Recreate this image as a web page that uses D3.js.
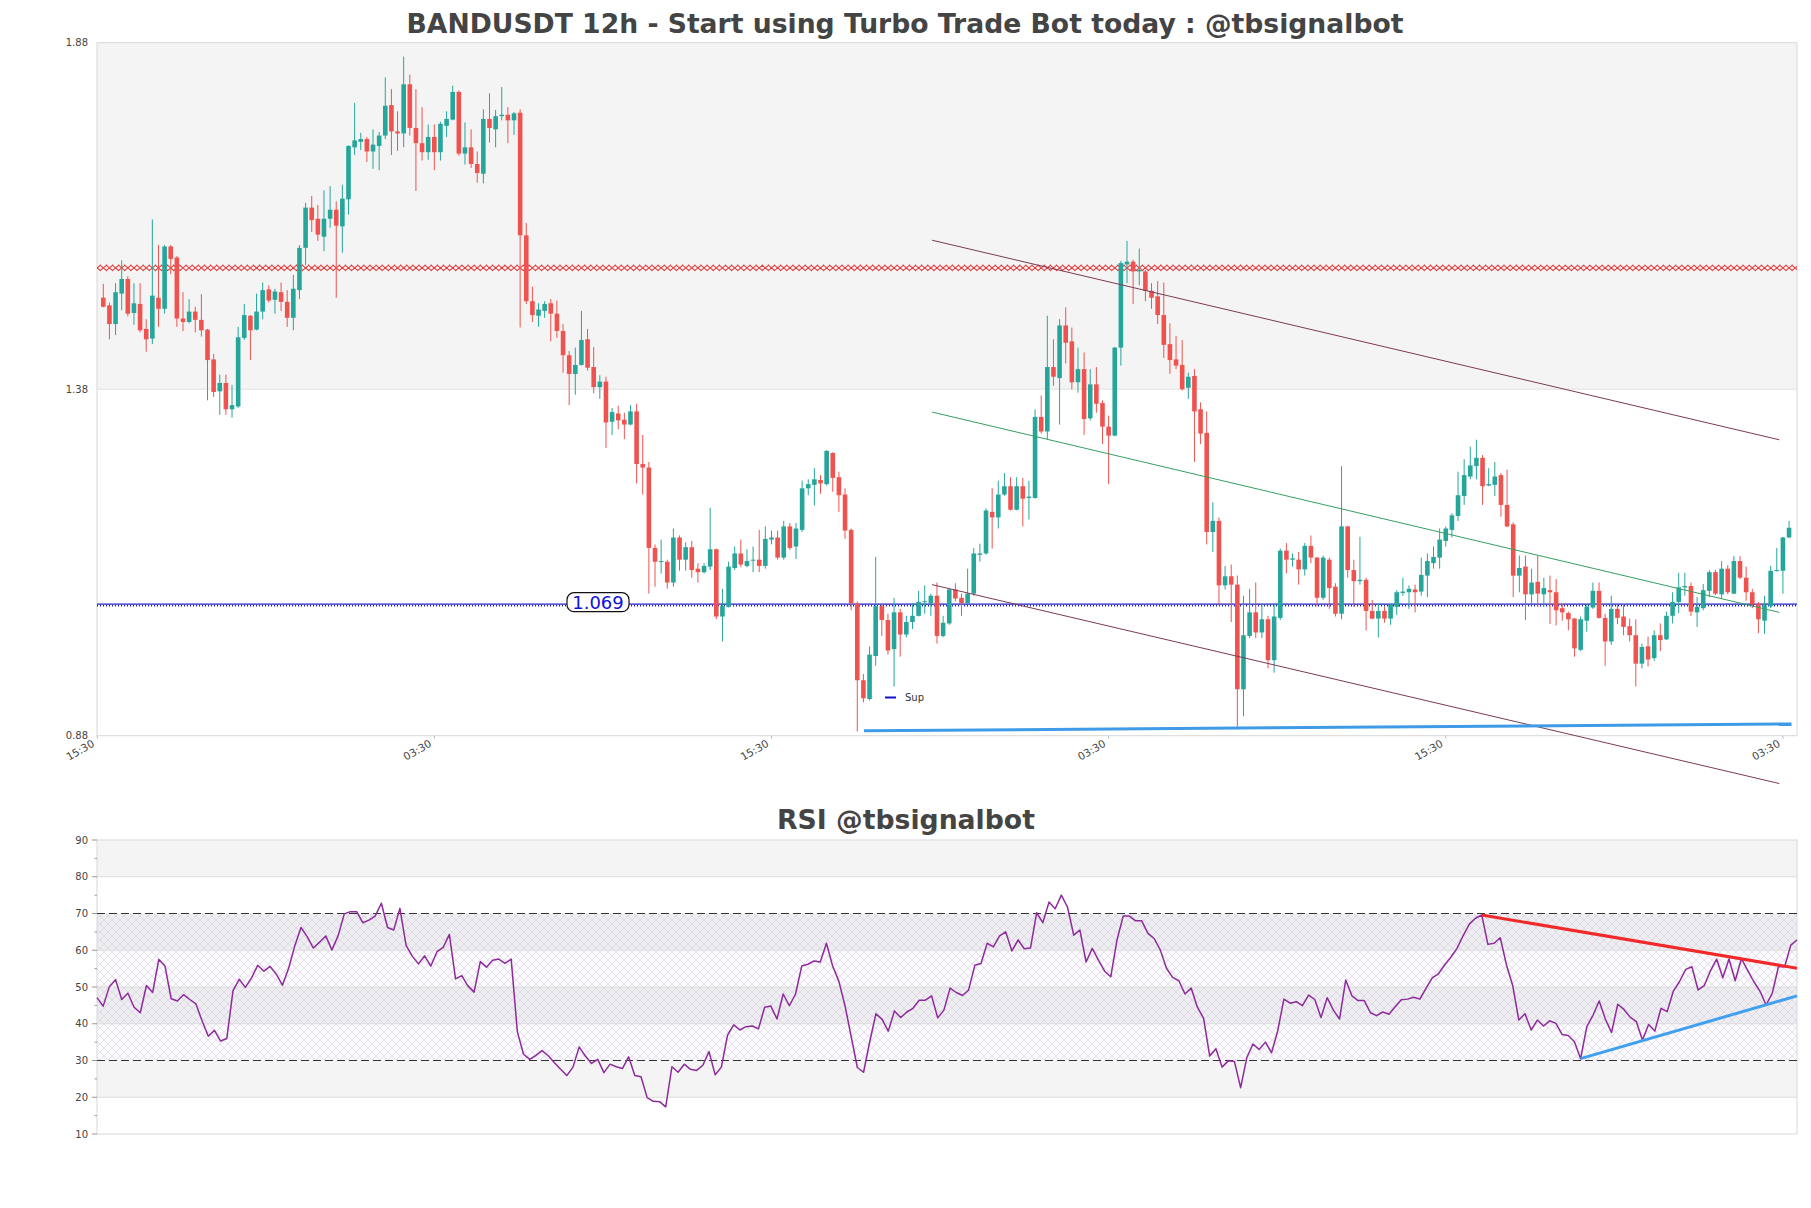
<!DOCTYPE html>
<html><head><meta charset="utf-8">
<script src="https://cdnjs.cloudflare.com/ajax/libs/d3/7.8.5/d3.min.js"></script>
<style>body{margin:0;background:#fff;} svg{display:block;font-family:"DejaVu Sans",sans-serif;}</style>
</head><body>
<svg id="chart" width="1811" height="1208"></svg>
<script>
// ---------------- DATA ----------------
const openP = [
1.512,1.501,1.474,1.518,1.539,1.490,1.503,1.467,1.453,1.512,
1.496,1.586,1.570,1.482,1.477,1.492,1.480,1.466,1.423,1.377,
1.389,1.351,1.355,1.454,1.486,1.466,1.492,1.524,1.509,1.520,
1.506,1.483,1.523,1.584,1.642,1.626,1.600,1.626,1.639,1.615,
1.654,1.729,1.737,1.741,1.723,1.731,1.746,1.790,1.752,1.749,
1.820,1.757,1.735,1.722,1.744,1.722,1.760,1.769,1.809,1.720,
1.729,1.705,1.691,1.770,1.755,1.774,1.776,1.768,1.779,1.602,
1.507,1.486,1.493,1.504,1.489,1.464,1.429,1.402,1.415,1.452,
1.412,1.383,1.391,1.333,1.345,1.336,1.329,1.348,1.272,1.267,
1.151,1.131,1.131,1.101,1.166,1.134,1.152,1.121,1.116,1.124,
1.149,1.052,1.066,1.122,1.143,1.125,1.133,1.134,1.125,1.163,
1.166,1.137,1.182,1.153,1.177,1.237,1.242,1.249,1.243,1.288,
1.253,1.228,1.177,1.071,0.960,0.933,0.995,1.067,1.047,1.005,
1.058,1.026,1.044,1.053,1.073,1.071,1.082,1.024,1.042,1.091,
1.079,1.071,1.085,1.141,1.143,1.203,1.195,1.228,1.240,1.206,
1.240,1.223,1.223,1.340,1.319,1.412,1.396,1.472,1.449,1.390,
1.409,1.338,1.387,1.360,1.326,1.313,1.440,1.560,1.564,1.550,
1.550,1.522,1.514,1.487,1.445,1.423,1.415,1.382,1.399,1.351,
1.317,1.174,1.190,1.097,1.110,1.098,0.947,1.024,1.058,1.029,
1.048,0.989,1.050,1.147,1.134,1.134,1.120,1.154,1.137,1.079,
1.134,1.095,1.056,1.182,1.119,1.103,1.105,1.060,1.049,1.060,
1.049,1.066,1.086,1.087,1.091,1.088,1.111,1.129,1.137,1.161,
1.177,1.197,1.226,1.254,1.269,1.281,1.241,1.242,1.256,1.213,
1.185,1.111,1.124,1.084,1.102,1.084,1.090,1.087,1.064,1.057,
1.049,1.004,1.046,1.065,1.089,1.050,1.016,1.063,1.052,1.038,
1.025,0.984,1.009,0.992,1.025,1.019,1.053,1.073,1.094,1.096,
1.058,1.064,1.089,1.116,1.084,1.121,1.085,1.132,1.108,1.087,
1.070,1.046,1.067,1.118,1.118,1.166];
const highP = [
1.532,1.505,1.533,1.566,1.543,1.533,1.533,1.481,1.625,1.588,
1.588,1.588,1.572,1.520,1.510,1.499,1.517,1.467,1.431,1.401,
1.401,1.386,1.470,1.503,1.487,1.518,1.534,1.530,1.525,1.534,
1.523,1.545,1.588,1.649,1.659,1.646,1.667,1.673,1.651,1.675,
1.732,1.793,1.750,1.744,1.755,1.751,1.830,1.813,1.781,1.860,
1.834,1.813,1.787,1.762,1.762,1.766,1.781,1.818,1.811,1.765,
1.755,1.723,1.784,1.807,1.783,1.816,1.787,1.780,1.784,1.620,
1.528,1.504,1.507,1.510,1.508,1.474,1.435,1.440,1.493,1.467,
1.441,1.400,1.398,1.353,1.356,1.346,1.357,1.359,1.314,1.275,
1.156,1.163,1.134,1.179,1.169,1.159,1.161,1.129,1.129,1.209,
1.150,1.092,1.131,1.153,1.163,1.149,1.153,1.177,1.182,1.176,
1.176,1.190,1.187,1.187,1.248,1.250,1.266,1.256,1.292,1.289,
1.261,1.237,1.179,1.074,0.969,1.009,1.138,1.071,1.056,1.079,
1.063,1.053,1.071,1.089,1.097,1.085,1.101,1.053,1.093,1.100,
1.085,1.121,1.151,1.157,1.208,1.237,1.248,1.259,1.253,1.253,
1.252,1.248,1.351,1.371,1.486,1.452,1.481,1.498,1.469,1.440,
1.433,1.409,1.412,1.364,1.342,1.441,1.565,1.594,1.567,1.583,
1.552,1.533,1.536,1.534,1.475,1.457,1.451,1.404,1.409,1.361,
1.348,1.217,1.195,1.125,1.127,1.111,1.082,1.092,1.101,1.071,
1.053,1.071,1.150,1.158,1.143,1.145,1.158,1.169,1.138,1.140,
1.137,1.100,1.269,1.183,1.134,1.167,1.108,1.076,1.071,1.066,
1.070,1.090,1.108,1.097,1.098,1.137,1.143,1.153,1.179,1.182,
1.201,1.261,1.279,1.297,1.307,1.285,1.266,1.275,1.259,1.264,
1.188,1.140,1.140,1.121,1.140,1.108,1.111,1.106,1.070,1.059,
1.050,1.052,1.070,1.101,1.101,1.056,1.082,1.071,1.070,1.049,
1.048,1.013,1.023,1.032,1.042,1.059,1.087,1.115,1.115,1.101,
1.080,1.099,1.119,1.119,1.132,1.126,1.139,1.139,1.124,1.092,
1.073,1.082,1.125,1.151,1.167,1.190];
const lowP = [
1.498,1.452,1.458,1.494,1.485,1.473,1.462,1.434,1.445,1.470,
1.489,1.546,1.470,1.464,1.475,1.462,1.456,1.364,1.369,1.343,
1.343,1.339,1.353,1.451,1.422,1.465,1.481,1.505,1.489,1.493,
1.470,1.465,1.510,1.559,1.607,1.594,1.579,1.613,1.512,1.577,
1.632,1.718,1.725,1.708,1.698,1.696,1.741,1.718,1.724,1.729,
1.746,1.666,1.710,1.711,1.696,1.710,1.744,1.768,1.717,1.704,
1.699,1.678,1.677,1.736,1.729,1.768,1.735,1.747,1.469,1.503,
1.477,1.470,1.483,1.449,1.454,1.404,1.357,1.372,1.414,1.407,
1.374,1.366,1.295,1.314,1.322,1.308,1.328,1.244,1.228,1.085,
1.095,1.114,1.092,1.095,1.118,1.118,1.108,1.101,1.114,1.119,
1.048,1.016,1.065,1.119,1.123,1.123,1.116,1.116,1.121,1.156,
1.134,1.134,1.148,1.135,1.174,1.227,1.212,1.229,1.241,1.232,
1.203,1.164,1.061,0.886,0.928,0.931,0.981,1.024,0.997,0.951,
0.994,1.022,1.034,1.052,1.056,1.053,1.013,1.022,1.040,1.074,
1.053,1.069,1.082,1.131,1.141,1.150,1.179,1.226,1.205,1.205,
1.182,1.192,1.222,1.316,1.308,1.385,1.329,1.417,1.380,1.375,
1.314,1.335,1.346,1.301,1.243,1.312,1.414,1.533,1.503,1.530,
1.507,1.496,1.474,1.425,1.402,1.409,1.378,1.366,1.275,1.301,
1.156,1.145,1.069,1.091,1.044,0.892,0.908,1.021,1.021,1.021,
0.977,0.971,1.047,1.114,1.124,1.098,1.111,1.129,1.067,1.076,
1.063,1.052,1.048,1.108,1.066,1.098,1.032,1.048,1.022,1.043,
1.040,1.054,1.082,1.063,1.058,1.082,1.080,1.121,1.121,1.153,
1.166,1.190,1.213,1.250,1.250,1.213,1.240,1.226,1.196,1.181,
1.080,1.087,1.047,1.071,1.066,1.066,1.041,1.039,1.046,1.032,
0.994,1.002,1.030,1.063,1.049,0.981,1.011,1.041,1.025,1.016,
0.951,0.977,0.980,0.988,1.002,1.018,1.042,1.057,1.082,1.053,
1.037,1.061,1.080,1.083,1.078,1.084,1.084,1.106,1.075,1.064,
1.028,1.027,1.064,1.117,1.085,1.165];
const closeP = [
1.499,1.474,1.520,1.539,1.489,1.504,1.465,1.452,1.515,1.496,
1.586,1.568,1.482,1.477,1.492,1.480,1.465,1.422,1.376,1.389,
1.351,1.357,1.455,1.487,1.465,1.492,1.523,1.508,1.521,1.506,
1.483,1.525,1.584,1.642,1.624,1.603,1.626,1.639,1.616,1.655,
1.731,1.739,1.741,1.723,1.733,1.746,1.789,1.752,1.749,1.820,
1.757,1.735,1.722,1.744,1.722,1.763,1.770,1.809,1.720,1.729,
1.705,1.692,1.770,1.757,1.774,1.776,1.768,1.778,1.602,1.507,
1.487,1.495,1.503,1.489,1.464,1.429,1.402,1.415,1.451,1.411,
1.383,1.391,1.332,1.347,1.335,1.329,1.348,1.272,1.267,1.151,
1.131,1.132,1.101,1.166,1.134,1.152,1.119,1.116,1.125,1.149,
1.052,1.067,1.124,1.143,1.127,1.132,1.134,1.125,1.164,1.166,
1.137,1.182,1.151,1.179,1.237,1.243,1.250,1.244,1.291,1.252,
1.227,1.176,1.071,0.960,0.934,0.997,1.067,1.047,1.003,1.058,
1.026,1.044,1.053,1.073,1.074,1.082,1.024,1.043,1.091,1.078,
1.071,1.085,1.143,1.143,1.205,1.195,1.228,1.240,1.206,1.240,
1.222,1.225,1.340,1.319,1.412,1.398,1.472,1.447,1.390,1.409,
1.337,1.387,1.359,1.326,1.313,1.440,1.562,1.564,1.550,1.552,
1.522,1.512,1.487,1.444,1.422,1.414,1.380,1.398,1.348,1.316,
1.174,1.190,1.097,1.110,1.098,0.947,1.025,1.058,1.029,1.048,
0.989,1.052,1.147,1.134,1.136,1.120,1.154,1.137,1.079,1.137,
1.093,1.056,1.182,1.119,1.103,1.105,1.060,1.049,1.060,1.049,
1.069,1.087,1.088,1.092,1.087,1.112,1.132,1.138,1.163,1.179,
1.198,1.227,1.256,1.270,1.281,1.240,1.243,1.254,1.213,1.182,
1.111,1.122,1.084,1.101,1.085,1.093,1.087,1.061,1.058,1.048,
1.006,1.048,1.066,1.089,1.050,1.016,1.063,1.050,1.037,1.025,
0.984,1.008,0.990,1.025,1.018,1.053,1.073,1.094,1.096,1.059,
1.066,1.090,1.116,1.085,1.121,1.087,1.132,1.108,1.087,1.070,
1.048,1.068,1.118,1.119,1.166,1.180];
const rsiValues = [
47.1,44.8,50.1,52.0,46.6,48.3,44.5,43.0,50.4,48.5,
57.5,55.7,46.8,46.2,47.9,46.6,45.4,40.8,36.6,38.2,
35.3,36.0,49.0,52.1,49.9,52.5,55.9,54.3,55.6,53.5,
50.5,55.1,61.2,66.2,63.7,60.6,62.2,63.9,60.1,63.9,
69.9,70.5,70.5,67.5,68.2,69.3,72.8,66.2,65.5,71.4,
61.3,58.4,56.3,58.5,55.7,59.6,60.8,64.3,52.2,53.1,
50.3,48.6,56.9,55.4,57.3,57.6,56.4,57.6,37.8,31.7,
30.3,31.4,32.7,31.3,29.4,27.6,25.9,28.2,33.7,31.2,
29.2,30.3,26.7,29.0,28.3,27.8,31.0,25.9,25.6,19.9,
18.9,18.8,17.4,28.3,26.8,29.0,27.6,27.3,28.7,32.4,
26.1,28.2,36.9,39.7,38.3,39.2,39.4,38.6,44.5,44.8,
41.3,48.1,44.9,48.1,55.7,56.2,57.1,56.8,61.9,55.7,
51.6,44.9,36.5,28.1,26.8,35.1,42.7,41.2,38.0,43.5,
41.7,43.2,44.2,46.4,46.4,47.6,41.6,43.7,49.7,48.5,
47.7,49.2,55.9,56.4,61.9,60.9,63.9,65.0,59.8,62.8,
60.4,60.6,70.2,67.5,73.1,71.3,75.0,71.7,64.1,65.5,
56.8,60.5,57.3,54.3,52.8,62.8,69.3,69.3,68.0,68.0,
64.6,63.2,60.1,55.1,52.6,51.7,48.1,49.7,44.5,41.5,
31.2,33.2,28.2,29.9,29.7,22.6,30.8,34.5,33.0,35.0,
32.1,38.1,46.7,45.6,46.0,44.9,47.8,46.6,41.7,47.1,
43.7,41.3,51.9,47.6,46.3,46.3,43.0,42.2,43.2,42.6,
44.6,46.5,46.7,47.2,46.7,49.7,52.5,53.6,56.0,58.1,
60.5,64.0,67.1,68.7,69.6,61.6,61.9,63.4,56.0,50.5,
41.0,42.7,38.3,41.0,39.4,40.8,40.1,37.1,36.8,35.1,
30.5,39.2,42.3,46.2,41.3,37.6,45.3,43.9,41.8,40.6,
35.6,39.8,38.0,44.2,43.3,48.9,51.5,54.8,55.5,49.2,
50.4,54.4,57.6,52.5,57.6,51.7,57.7,54.6,51.5,48.9,
45.1,48.3,55.5,55.5,61.4,62.8];
const priceTicks = [0.88, 1.38, 1.88];
const rsiTicks = [10, 20, 30, 40, 50, 60, 70, 80, 90];
const timeTickIndex = [-1, 54, 109, 164, 219, 274];
const timeTickLabels = ["15:30", "03:30", "15:30", "03:30", "15:30", "03:30"];
const resistanceLevel = 1.555;
const supportLevel = 1.069;
const channelUpper = [[135.2, 1.595], [273.4, 1.307]];
const channelMiddle = [[135.2, 1.347], [273.4, 1.058]];
const channelLower = [[135.2, 1.098], [273.4, 0.811]];
const supLine = [[124.1, 0.887], [275.4, 0.897]];
const rsiResistLine = [[224, 69.6], [275, 55.1]];
const rsiSupportLine = [[240, 30.5], [275, 47.6]];
const mainTitle = "BANDUSDT 12h - Start using Turbo Trade Bot today : @tbsignalbot";
const rsiTitle = "RSI @tbsignalbot";

// ---------------- LAYOUT ----------------
const L = 97, R = 1797;
const mainTop = 42.7, mainBot = 735.7;
const rsiTop = 840, rsiBot = 1134;
const N = openP.length;

const svg = d3.select("#chart");
const xC = d3.scaleLinear().domain([0, N - 1]).range([103.3, 103.3 + (N - 1) * 6.13]);
const xR = d3.scaleLinear().domain([0, N - 1]).range([L, R]);
const yP = d3.scaleLinear().domain([0.88, 1.88]).range([mainBot, mainTop]);
const yR = d3.scaleLinear().domain([10, 90]).range([rsiBot, rsiTop]);

const defs = svg.append("defs");
defs.append("clipPath").attr("id", "clipMain").append("rect")
  .attr("x", L).attr("y", mainTop).attr("width", R - L).attr("height", mainBot - mainTop);
const pat = defs.append("pattern").attr("id", "hatch").attr("patternUnits", "userSpaceOnUse")
  .attr("width", 8).attr("height", 8);
pat.append("path").attr("d", "M0,0L8,8M8,0L0,8M-1,7L1,9M7,-1L9,1")
  .attr("stroke", "#cdc3da").attr("stroke-width", 0.6).attr("fill", "none");

// ---------------- TITLES ----------------
function fitText(sel, target) {
  const w = sel.node().getComputedTextLength();
  const fs = parseFloat(sel.attr("font-size"));
  sel.attr("font-size", (fs * target / w).toFixed(2));
}
const t1 = svg.append("text").attr("x", 905).attr("y", 33).attr("text-anchor", "middle")
  .attr("font-weight", "bold").attr("font-size", 26).attr("fill", "#444").text(mainTitle);
fitText(t1, 997);
const t2 = svg.append("text").attr("x", 906).attr("y", 829).attr("text-anchor", "middle")
  .attr("font-weight", "bold").attr("font-size", 26).attr("fill", "#444").text(rsiTitle);
fitText(t2, 258);

// ---------------- MAIN PANEL ----------------
const gM = svg.append("g");
gM.append("rect").attr("x", L).attr("y", yP(1.88)).attr("width", R - L)
  .attr("height", yP(1.38) - yP(1.88)).attr("fill", "#f4f4f4");
gM.append("line").attr("x1", L).attr("x2", R).attr("y1", yP(1.38)).attr("y2", yP(1.38))
  .attr("stroke", "#e0e0e0");
gM.append("rect").attr("x", L).attr("y", mainTop).attr("width", R - L).attr("height", mainBot - mainTop)
  .attr("fill", "none").attr("stroke", "#d8d8d8");

gM.selectAll("text.py").data(priceTicks).join("text").attr("class", "py")
  .attr("x", 88).attr("y", d => yP(d) + 3.5).attr("text-anchor", "end")
  .attr("font-size", 10).attr("fill", "#444").text(d => d.toFixed(2));

gM.selectAll("line.xt").data(timeTickIndex).join("line").attr("class", "xt")
  .attr("x1", d => xC(d)).attr("x2", d => xC(d)).attr("y1", mainBot).attr("y2", mainBot + 3)
  .attr("stroke", "#bbb");
gM.selectAll("text.xl").data(timeTickIndex).join("text").attr("class", "xl")
  .attr("transform", d => `translate(${xC(d) - 2},${mainBot + 10}) rotate(-30)`)
  .attr("text-anchor", "end").attr("font-size", 10.5).attr("fill", "#444")
  .text((d, i) => timeTickLabels[i]);

const gClip = gM.append("g").attr("clip-path", "url(#clipMain)");

// resistance level: chain of x markers
const ry = yP(resistanceLevel);
gClip.append("path").attr("d", d3.range(-2, N + 2).map(i => {
    const x = xC(i);
    return `M${x - 3.6},${ry - 3}L${x + 3.6},${ry + 3}M${x + 3.6},${ry - 3}L${x - 3.6},${ry + 3}`;
  }).join("")).attr("stroke", "#e23b3b").attr("stroke-width", 1.1).attr("fill", "none");

// support level 1.069
const sy = yP(supportLevel);
gClip.append("line").attr("x1", L).attr("x2", R).attr("y1", sy - 0.5).attr("y2", sy - 0.5)
  .attr("stroke", "#1c1cc4").attr("stroke-width", 1.2);
gClip.append("line").attr("x1", L).attr("x2", R).attr("y1", sy + 1).attr("y2", sy + 1)
  .attr("stroke", "#1c1cc4").attr("stroke-width", 1.5).attr("stroke-dasharray", "1,2");

// candles
const up = i => closeP[i] >= openP[i];
const cg = gClip.selectAll("g.c").data(d3.range(N)).join("g").attr("class", "c");
cg.append("line").attr("x1", i => xC(i)).attr("x2", i => xC(i))
  .attr("y1", i => yP(highP[i])).attr("y2", i => yP(lowP[i]))
  .attr("stroke", i => up(i) ? "#26a69a" : "#ef5350").attr("stroke-width", 1);
cg.append("rect").attr("x", i => xC(i) - 2.3).attr("width", 4.6)
  .attr("y", i => yP(Math.max(openP[i], closeP[i])))
  .attr("height", i => Math.max(1, Math.abs(yP(openP[i]) - yP(closeP[i]))))
  .attr("fill", i => up(i) ? "#26a69a" : "#ef5350");

// channel lines
const lineP = d3.line().x(d => xC(d[0])).y(d => yP(d[1]));
gM.append("path").attr("d", lineP(channelUpper)).attr("stroke", "#7d3a55").attr("stroke-width", 1).attr("fill", "none");
gM.append("path").attr("d", lineP(channelMiddle)).attr("stroke", "#35a060").attr("stroke-width", 1).attr("fill", "none");
gM.append("path").attr("d", lineP(channelLower)).attr("stroke", "#7d3a55").attr("stroke-width", 1).attr("fill", "none");
gM.append("path").attr("d", lineP(supLine)).attr("stroke", "#3f9ae8").attr("stroke-width", 3).attr("fill", "none");

// 1.069 label
const lx = 598, lbl = gM.append("g");
lbl.append("rect").attr("x", lx - 31).attr("y", sy - 12).attr("width", 62).attr("height", 19)
  .attr("rx", 7).attr("fill", "#fff").attr("stroke", "#111").attr("stroke-width", 1.2);
lbl.append("text").attr("x", lx).attr("y", sy + 4).attr("text-anchor", "middle")
  .attr("font-size", 18).attr("fill", "#1010dd").text(supportLevel.toFixed(3));

// legend
gM.append("line").attr("x1", 885).attr("x2", 896).attr("y1", 697.5).attr("y2", 697.5)
  .attr("stroke", "#1010c8").attr("stroke-width", 2);
gM.append("text").attr("x", 905).attr("y", 701).attr("font-size", 10).attr("fill", "#333").text("Sup");

// ---------------- RSI PANEL ----------------
const gR = svg.append("g");
const bands = [[80, 90, "#f4f4f4"], [70, 80, "#ffffff"], [60, 70, "#eeeef1"], [50, 60, "#fbfafc"],
               [40, 50, "#eeeef1"], [30, 40, "#fbfafc"], [20, 30, "#f4f4f4"], [10, 20, "#ffffff"]];
gR.selectAll("rect.b").data(bands).join("rect").attr("class", "b")
  .attr("x", L).attr("width", R - L).attr("y", d => yR(d[1])).attr("height", d => yR(d[0]) - yR(d[1]))
  .attr("fill", d => d[2]);
gR.append("rect").attr("x", L).attr("width", R - L).attr("y", yR(70)).attr("height", yR(30) - yR(70))
  .attr("fill", "url(#hatch)").attr("opacity", 0.8);
gR.selectAll("line.g").data([20, 40, 50, 60, 80]).join("line").attr("class", "g")
  .attr("x1", L).attr("x2", R).attr("y1", d => yR(d)).attr("y2", d => yR(d)).attr("stroke", "#dcdcdc");
gR.append("rect").attr("x", L).attr("y", rsiTop).attr("width", R - L).attr("height", rsiBot - rsiTop)
  .attr("fill", "none").attr("stroke", "#d8d8d8");
gR.selectAll("line.d").data([70, 30]).join("line").attr("class", "d")
  .attr("x1", L).attr("x2", R).attr("y1", d => yR(d)).attr("y2", d => yR(d))
  .attr("stroke", "#333").attr("stroke-width", 1.1).attr("stroke-dasharray", "8,4");

gR.selectAll("line.mt").data(d3.range(15, 90, 10)).join("line").attr("class", "mt")
  .attr("x1", L - 2.5).attr("x2", L).attr("y1", d => yR(d)).attr("y2", d => yR(d)).attr("stroke", "#999");
gR.selectAll("line.Mt").data(rsiTicks).join("line").attr("class", "Mt")
  .attr("x1", L - 5).attr("x2", L).attr("y1", d => yR(d)).attr("y2", d => yR(d)).attr("stroke", "#999");
gR.selectAll("text.ry").data(rsiTicks).join("text").attr("class", "ry")
  .attr("x", 88).attr("y", d => yR(d) + 3.5).attr("text-anchor", "end")
  .attr("font-size", 10).attr("fill", "#444").text(d => d);

const lineR = d3.line().x((d, i) => xR(i)).y(d => yR(d));
gR.append("path").attr("d", lineR(rsiValues)).attr("stroke", "#8e2a9c").attr("stroke-width", 1.5)
  .attr("fill", "none").attr("stroke-linejoin", "round");
const lineRT = d3.line().x(d => xR(d[0])).y(d => yR(d[1]));
gR.append("path").attr("d", lineRT(rsiResistLine)).attr("stroke", "#f02a2a").attr("stroke-width", 3).attr("fill", "none");
gR.append("path").attr("d", lineRT(rsiSupportLine)).attr("stroke", "#41a0ee").attr("stroke-width", 3).attr("fill", "none");
</script>
</body></html>
